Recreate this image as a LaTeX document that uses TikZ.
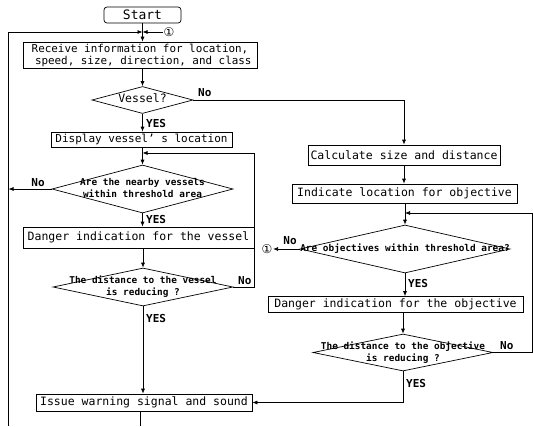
\documentclass[tikz,border=0pt]{standalone}
\usepackage{fontspec}
\setmonofont{DejaVu Sans Mono}
\newfontfamily\circfont{DejaVu Sans}
\usetikzlibrary{arrows.meta, positioning, shapes.geometric}
\newcommand{\dtext}[1]{\smash{\makebox[0pt]{\raisebox{-0.28em}{\begin{tabular}{@{}c@{}}#1\end{tabular}}}}}

\begin{document}
\begin{tikzpicture}[x=1pt, y=-1pt,
    % Styles
    flow/.style={draw, line width=0.7pt, -{Latex[length=5pt, width=4pt]}},
    line/.style={draw, line width=0.7pt},
    terminal/.style={draw, line width=0.7pt, rounded corners=3pt, inner sep=0pt, font=\ttfamily\fontsize{13}{13}\selectfont},
    process/.style={draw, line width=0.7pt, rectangle, inner sep=0pt, align=center, font=\ttfamily\fontsize{11.5}{12}\selectfont},
    decision/.style={draw, line width=0.7pt, diamond, inner sep=0pt, font=\ttfamily\bfseries\fontsize{9.4}{12}\selectfont},
    answer/.style={inner sep=0pt, font=\ttfamily\bfseries\fontsize{11}{11}\selectfont},
    marker/.style={inner sep=0.5pt, font=\circfont\fontsize{12}{12}\selectfont},
]
    \useasboundingbox (0,0) rectangle (533,426);

    % Left column - vessel branch
    \node[terminal, minimum width=77pt, minimum height=16pt] (start) at (142.5,15) {Start};
    \node[process, minimum width=234pt, minimum height=26pt, font=\ttfamily\fontsize{10.9}{12}\selectfont] (receive) at (140,55) {Receive information for location,\\\ speed, size, direction, and class};
    \node[decision, minimum width=101pt, minimum height=27pt, font=\ttfamily\fontsize{11.5}{12}\selectfont] (vessel) at (142.5,100) {\dtext{Vessel?}};
    \node[process, minimum width=181pt, minimum height=15pt, font=\ttfamily\fontsize{11}{12}\selectfont] (display) at (141.5,139.5) {Display vessel’ s location};
    \node[decision, minimum width=181pt, minimum height=48pt] (nearby) at (142.5,189) {\dtext{Are the nearby vessels\\within threshold area}};
    \node[process, minimum width=231pt, minimum height=21pt] (dangerv) at (138.5,237.5) {Danger indication for the vessel};
    \node[decision, minimum width=180pt, minimum height=38pt] (distv) at (143,287) {\dtext{The distance to the vessel\\is reducing ?}};
    \node[process, minimum width=216pt, minimum height=17pt] (issue) at (144,402.5) {Issue warning signal and sound};

    % Right column - objective branch
    \node[process, minimum width=192pt, minimum height=20pt] (calc) at (404,155) {Calculate size and distance};
    \node[process, minimum width=225pt, minimum height=19pt] (indicate) at (404.5,193.5) {Indicate location for objective};
    \node[decision, minimum width=210pt, minimum height=48pt] (objective) at (405,249) {\dtext{Are objectives within threshold area?}};
    \node[process, minimum width=255pt, minimum height=16pt] (dangero) at (395.5,304.5) {Danger indication for the objective};
    \node[decision, minimum width=180pt, minimum height=37pt] (disto) at (403,352.5) {\dtext{The distance to the objective\\is reducing ?}};

    % Connector markers
    \node[marker] (circ1) at (169,32) {①};
    \node[marker] (circ2) at (267,249) {①};

    % Loop end points
    \coordinate (loopbot) at (8.5,426);
    \coordinate (issueout) at (140,426);
    \coordinate (vloop) at (254,153);
    \coordinate (oloop) at (532.5,213);

    % Left column flow
    \draw[flow] (start.south) -- (start.south |- receive.north);
    \draw[flow] (loopbot) |- (start.south |- circ1);
    \draw[flow] (circ1.west) -- (start.south |- circ1);
    \draw[flow] (vessel.north |- receive.south) -- (vessel.north);
    \draw[flow] (vessel.east) -| (calc.north);
    \draw[flow] (vessel.south) -- (vessel.south |- display.north);
    \draw[flow] (display.south -| nearby.north) -- (nearby.north);
    \draw[flow] (nearby.west) -- (nearby.west -| loopbot);
    \draw[flow] (nearby.south) -- (nearby.south |- dangerv.north);
    \draw[flow] (dangerv.south -| distv.north) -- (distv.north);
    \draw[flow] (distv.east) -| (vloop) -- (vloop -| nearby.north);
    \draw[flow] (distv.south) -- (distv.south |- issue.north);
    \draw[line] (issue.south -| issueout) -- (issueout);

    % Right column flow
    \draw[flow] (calc.south) -- (calc.south |- indicate.north);
    \draw[flow] (indicate.south -| objective.north) -- (objective.north);
    \draw[flow] (objective.west) -- (circ2.east);
    \draw[flow] (objective.south) -- (objective.south |- dangero.north);
    \draw[flow] (dangero.south -| disto.north) -- (disto.north);
    \draw[flow] (disto.east) -| (oloop) -- (oloop -| objective.north);
    \draw[flow] (disto.south) |- (issue.east);

    % Answer labels
    \node[answer, anchor=south west] (vesselno) at (198,97) {No};
    \node[answer, anchor=west] (vesselyes) at (146,123) {YES};
    \node[answer, anchor=south] (nearbyno) at (38,187) {No};
    \node[answer, anchor=west] (nearbyyes) at (146,219) {YES};
    \node[answer, anchor=south west] (distvno) at (238,285) {No};
    \node[answer, anchor=west] (distvyes) at (146,318) {YES};
    \node[answer, anchor=south] (objectiveno) at (290,245) {No};
    \node[answer, anchor=west] (objectiveyes) at (408,283) {YES};
    \node[answer, anchor=south west] (distono) at (500,350) {No};
    \node[answer, anchor=west] (distoyes) at (406,383) {YES};
\end{tikzpicture}
\end{document}
